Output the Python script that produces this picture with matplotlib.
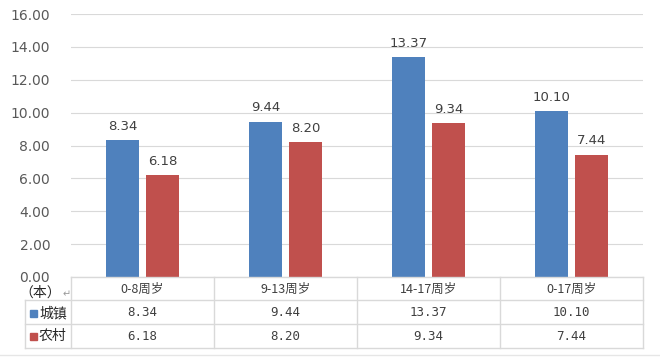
import matplotlib
matplotlib.use("Agg")
import matplotlib.pyplot as plt
import numpy as np
from matplotlib.lines import Line2D
from matplotlib.patches import Rectangle

plt.rcParams['font.family'] = ['Noto Sans CJK SC', 'DejaVu Sans']

categories = ["0-8周岁", "9-13周岁", "14-17周岁", "0-17周岁"]
series_names = ["城镇", "农村"]
urban = [8.34, 9.44, 13.37, 10.10]
rural = [6.18, 8.20, 9.34, 7.44]
colors = ["#4F81BD", "#C0504D"]
yticks = [0, 2, 4, 6, 8, 10, 12, 14, 16]

W, H = 660, 358
fig = plt.figure(figsize=(6.6, 3.58), dpi=100)
x0, x1, y0, y1 = 71, 643, 277, 14
ax = fig.add_axes([x0 / W, 1 - y0 / H, (x1 - x0) / W, (y0 - y1) / H])

x = np.arange(len(categories))
bw = 0.225
off = 0.14
for vals, c, d in [(urban, colors[0], -off), (rural, colors[1], off)]:
    bars = ax.bar(x + d, vals, bw, color=c, zorder=3)
    for b, v in zip(bars, vals):
        ax.text(b.get_x() + b.get_width() / 2, v + 0.45, "%.2f" % v,
                ha='center', va='bottom', fontsize=9.5, color='#404040',
                family='DejaVu Sans')

ax.set_xlim(-0.5, len(categories) - 0.5)
ax.set_ylim(0, 16)
ax.set_yticks(yticks)
ax.set_yticklabels(["%.2f" % t for t in yticks], fontsize=10, color='#595959',
                   family='DejaVu Sans')
ax.tick_params(axis='y', length=0, pad=15)
ax.set_xticks([])
ax.grid(axis='y', color='#d9d9d9', lw=0.8, zorder=0)
for s in ax.spines.values():
    s.set_visible(False)

# data table under the plot
def fx(px):
    return px / W

def fy(py):
    return 1 - py / H

gc = '#d9d9d9'
rows = [277, 300, 324, 348]
cols = [x0 + i * (x1 - x0) / len(categories) for i in range(len(categories) + 1)]
left = 25
for i, ry in enumerate(rows):
    xa = x0 if i == 0 else left
    fig.add_artist(Line2D([fx(xa), fx(x1)], [fy(ry), fy(ry)], color=gc, lw=1))
for cx in cols:
    fig.add_artist(Line2D([fx(cx), fx(cx)], [fy(rows[0]), fy(rows[-1])], color=gc, lw=1))
fig.add_artist(Line2D([fx(left), fx(left)], [fy(rows[1]), fy(rows[-1])], color=gc, lw=1))
fig.add_artist(Line2D([0, 1], [fy(355), fy(355)], color='#e6e6e6', lw=1))

fig.text(fx(19), fy(293), "（本）", fontsize=10, color='#262626', va='center', ha='left')
fig.text(fx(63), fy(294), "↵", fontsize=7, color='#999999', va='center', ha='left',
         family='DejaVu Sans')

for i, cat in enumerate(categories):
    cx = (cols[i] + cols[i + 1]) / 2
    fig.text(fx(cx), fy(289), cat, fontsize=9, color='#404040', ha='center', va='center')
    fig.text(fx(cx), fy(313), "%.2f" % urban[i], fontsize=9, color='#404040',
             ha='center', va='center', family='DejaVu Sans Mono')
    fig.text(fx(cx), fy(336), "%.2f" % rural[i], fontsize=9, color='#404040',
             ha='center', va='center', family='DejaVu Sans Mono')

for name, c, ry in zip(series_names, colors, [313, 336]):
    fig.add_artist(Rectangle((fx(30), fy(ry + 4)), 7 / W, 7 / H, color=c,
                             transform=fig.transFigure))
    fig.text(fx(39), fy(ry), name, fontsize=10, color='#262626', ha='left', va='center')

fig.savefig("out.png", dpi=100)
